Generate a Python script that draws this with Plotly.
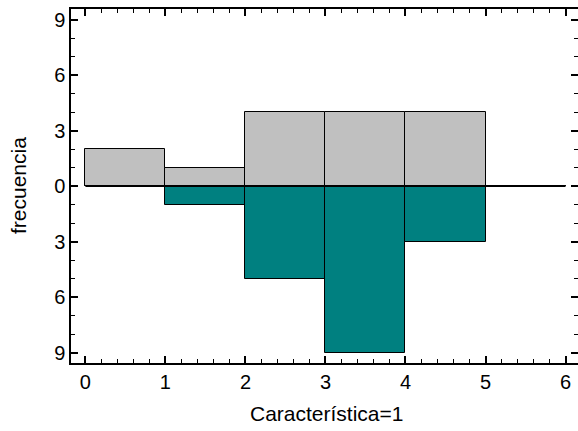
import plotly.graph_objects as go

bin_edges = [0, 1, 2, 3, 4, 5, 6]
upper_counts = [2, 1, 4, 4, 4, 0]   # gray, above zero
lower_counts = [0, 1, 5, 9, 3, 0]   # teal, below zero
y_tickvals = [-9, -6, -3, 0, 3, 6, 9]
y_ticktext = ["9", "6", "3", "0", "3", "6", "9"]
x_tickvals = [0, 1, 2, 3, 4, 5, 6]
x_title = "Característica=1"
y_title = "frecuencia"

centers = [(a + b) / 2 for a, b in zip(bin_edges[:-1], bin_edges[1:])]
widths = [b - a for a, b in zip(bin_edges[:-1], bin_edges[1:])]

fig = go.Figure()
fig.add_trace(go.Bar(
    x=centers, y=upper_counts, width=widths,
    marker=dict(color="#C0C0C0", line=dict(color="black", width=1)),
    showlegend=False,
))
fig.add_trace(go.Bar(
    x=centers, y=[-v for v in lower_counts], width=widths,
    marker=dict(color="#008080", line=dict(color="black", width=1)),
    showlegend=False,
))
fig.add_trace(go.Scatter(
    x=[bin_edges[0], bin_edges[-1]], y=[0, 0], mode="lines",
    line=dict(color="black", width=1.5), showlegend=False, hoverinfo="skip",
))

family = "Arial, Liberation Sans, sans-serif"
tick_font = dict(family=family, size=20, color="black")
title_font = dict(family=family, size=21, color="black")

fig.update_layout(
    template="none",
    width=578, height=431,
    margin=dict(l=71, r=0, t=9, b=68, autoexpand=False),
    paper_bgcolor="white", plot_bgcolor="white",
    barmode="overlay", bargap=0,
    font=tick_font,
    xaxis=dict(
        automargin=False,
        range=[-0.18, 6.156],
        tickvals=x_tickvals,
        ticks="inside", ticklen=7, tickwidth=1.5, tickcolor="black",
        minor=dict(ticks="inside", dtick=0.2, ticklen=4, tickwidth=1, tickcolor="black"),
        showline=True, linecolor="black", linewidth=1.5, mirror="ticks",
        showgrid=False, zeroline=False,
        tickfont=tick_font,
    ),
    yaxis=dict(
        automargin=False,
        range=[-9.55, 9.58],
        tickvals=y_tickvals, ticktext=y_ticktext,
        ticks="inside", ticklen=7, tickwidth=1.5, tickcolor="black",
        minor=dict(ticks="inside", dtick=1, ticklen=4, tickwidth=1, tickcolor="black"),
        showline=True, linecolor="black", linewidth=1.5, mirror="ticks",
        showgrid=False, zeroline=False,
        tickfont=tick_font,
    ),
    annotations=[
        dict(text=x_title, xref="paper", yref="paper", x=0.5, y=0,
             xanchor="center", yanchor="middle", yshift=-50, xshift=2,
             showarrow=False, font=title_font),
        dict(text=y_title, xref="paper", yref="paper", x=0, y=0.5,
             xanchor="center", yanchor="middle", xshift=-53, textangle=-90,
             showarrow=False, font=title_font),
    ],
)

fig.write_html(
    "out.html",
    config={"displayModeBar": False},
    post_script="document.body.style.margin='0';document.body.style.overflow='hidden';",
)
